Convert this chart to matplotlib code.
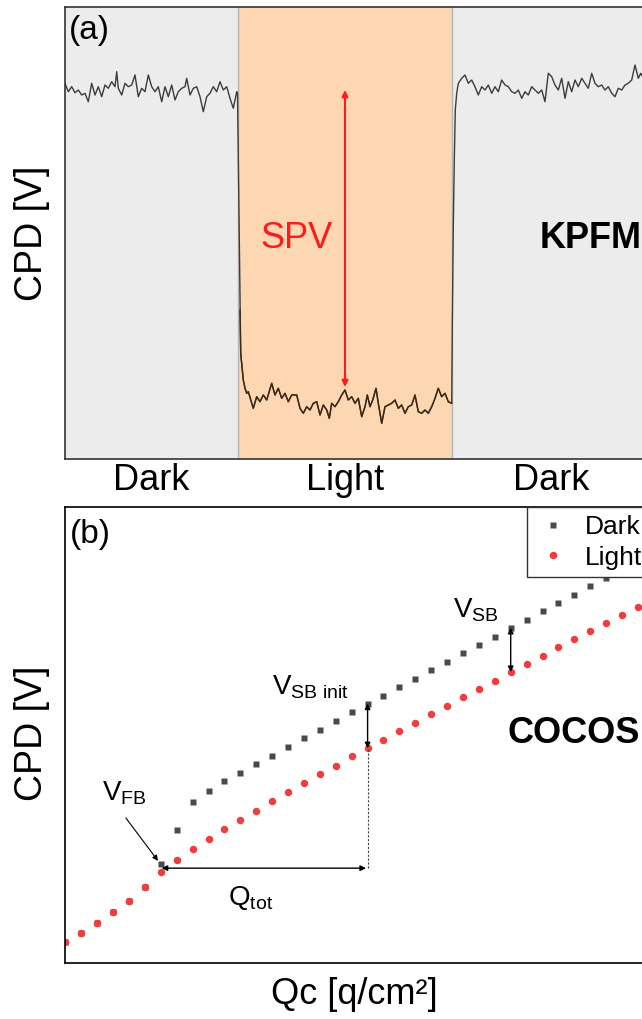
import matplotlib.pyplot as plt
import numpy as np

plt.rcParams['font.family'] = ['Liberation Sans', 'DejaVu Sans']
plt.rcParams['mathtext.fontset'] = 'custom'
plt.rcParams['mathtext.rm'] = 'Liberation Sans'
plt.rcParams['mathtext.it'] = 'Liberation Sans:italic'

# ---- (a) KPFM: CPD vs tiempo (unidades arbitrarias)
t_kpfm = [0, 3.3, 6.7, 10, 13.3, 16.7, 20, 23.3, 26.7, 30, 33.3, 36.7, 40, 43.3, 46.7, 50, 51.7, 53.3,
          56.7, 60, 63.3, 66.7, 70, 73.3, 76.7, 80, 83.3, 86.7, 90, 93.3, 96.7, 100, 103.3, 106.7, 110,
          113.3, 116.7, 120, 121.7, 125, 128.3, 131.7, 135, 138.3, 141.7, 145, 148.3, 151.7, 155, 158.3,
          161.7, 165, 168.3, 171.7,
          172.5, 173.3, 174.3, 175, 175.7, 177, 178.3, 180, 181.7, 183.3, 188.3, 191.7, 195, 198.3, 201.7,
          206.7, 210, 213.3, 216.7, 220, 223.3, 226.7, 231.7, 235, 238.3, 241.7, 245, 248.3, 251.7, 255,
          258.3, 261.7, 264.3, 266.7, 270, 273.3, 276.7, 280, 283.3, 286.7, 290, 293.3, 296.7, 300, 302.3,
          305, 307.7, 311, 313.3, 316.7, 320, 323.3, 326.7, 330, 333.3, 336.7, 340, 343.3, 346.7, 350,
          353.3, 356.7, 360, 363.3, 366.7, 370, 373.3, 376.7, 380, 383.3, 386.7,
          387.3, 388.3, 389.3, 390.3, 391.7, 393.3, 396.7, 400, 403.3, 406.7, 410, 413.3, 416.7, 420,
          423.3, 426.7, 430, 433.3, 436.7, 440, 443.3, 446.7, 450, 453.3, 456.7, 460, 463.3, 466.7, 470,
          473.3, 476.7, 480, 483.3, 486.7, 490, 493.3, 496.7, 500, 503.3, 506.7, 510, 513.3, 516.7, 520,
          523.3, 526.7, 530, 533.3, 536.7, 540, 543.3, 546.7, 550, 553.3, 556.7, 560, 563.3, 566.7, 570,
          573.3, 575.7, 580, 585]
cpd_kpfm = [375.7, 367.3, 372.3, 366.3, 369, 364, 365.7, 357.3, 375.7, 364, 372.3, 362.3, 374, 370.7,
            377.3, 372.3, 387.3, 370.7, 364, 375.7, 372.3, 374, 384, 362.3, 370.7, 367.3, 384, 372.3,
            367.3, 372.3, 357.3, 372.3, 362.3, 374, 359, 367.3, 370.7, 372.3, 380.7, 364, 370.7, 372.3,
            362.3, 347.3, 362.3, 365.7, 372.3, 367.3, 377.3, 369, 372.3, 360.7, 350.7, 367.3,
            366, 299, 215.7, 149, 105.7, 92.3, 79, 70.7, 65.7, 67.3, 50.7, 62.3, 57.3, 64, 59,
            75.7, 64, 70.7, 60.7, 65.7, 57.3, 64, 64, 50.7, 45.7, 52.3, 49, 55.7, 57.3, 44,
            54, 49, 40.7, 55.7, 52.3, 57.3, 64, 69, 59, 62.3, 55.7, 60.7, 42.3, 52.3, 64,
            52.3, 59, 70.7, 55.7, 35.7, 52.3, 54, 55.7, 59, 50.7, 54, 45.7, 52.3, 54, 64,
            47.3, 45.7, 49, 45.7, 52.3, 60.7, 70.7, 62.3, 65.7, 57.3, 55.7,
            132.3, 232.3, 299, 349, 365.7, 375.7, 380.7, 384, 375.7, 379, 372.3, 364, 372.3, 369,
            374, 365.7, 372.3, 367.3, 379, 374, 372.3, 367.3, 365.7, 369, 360.7, 367.3, 364, 372.3, 369,
            365.7, 369, 357.3, 385.7, 382.3, 374, 369, 380.7, 360.7, 377.3, 367.3, 379, 372.3, 380.7, 375.7,
            370.7, 385.7, 375.7, 372.3, 374, 369, 372.3, 365.7, 362.3, 370.7, 369, 374, 375.7, 379, 394,
            380.7, 385.7, 378, 382]
etapas = ['Dark', 'Light', 'Dark']
limites = [0, 173, 387, 585]

# ---- (b) COCOS: CPD vs carga depositada
qc = list(range(37))
cpd_dark = [4.6, 6.6, 8.8, 11.1, 13.7, 16.7, 21.7, 29.2, 35.2, 37.8, 39.9, 41.7, 43.6, 45.5, 47.4,
            49.3, 51.1, 53.0, 55.0, 56.9, 58.6, 60.5, 62.3, 64.2, 66.1, 67.9, 69.8, 71.6, 73.5, 75.3,
            77.1, 79.0, 80.7, 82.6, 84.4, 86.2, 88.1]
cpd_light = [4.6, 6.6, 8.8, 11.1, 13.7, 16.7, 20.0, 22.6, 24.9, 27.2, 29.3, 31.4, 33.4, 35.5, 37.5,
             39.4, 41.4, 43.3, 45.3, 47.1, 49.0, 50.8, 52.7, 54.6, 56.4, 58.3, 60.1, 61.9, 63.8, 65.6,
             67.4, 69.2, 71.0, 72.8, 74.6, 76.4, 78.1]

fig = plt.figure(figsize=(6.42, 10.19), dpi=100)

# Panel (a)
ax1 = fig.add_axes([65/642, 1-459/1019, 585/642, 452/1019])
fondos = ['#ececec', '#fdd6b2', '#ececec']
for k in range(3):
    ax1.axvspan(limites[k], limites[k+1], color=fondos[k], lw=0, zorder=0)
for b in limites[1:3]:
    ax1.axvline(b, color='#b4b4b4', lw=1, zorder=1)

t = np.array(t_kpfm)
c = np.array(cpd_kpfm)
ax1.plot(t, c, color='#3c3c3c', lw=1.0, zorder=2)
luz = (t >= 175) & (t <= 386.7)
ax1.plot(t[luz], c[luz], color='#3d2812', lw=1.0, zorder=3)

ax1.annotate('', xy=(280, 72), xytext=(280, 369),
             arrowprops=dict(arrowstyle='<|-|>', color='#ff1a1a', lw=1.5, mutation_scale=9,
                             shrinkA=0, shrinkB=0))
ax1.text(232, 221, 'SPV', color='#ff1a1a', fontsize=26, ha='center', va='center')
ax1.text(475, 221, 'KPFM', fontsize=26, fontweight='bold', ha='left', va='center')
ax1.text(4, 428, '(a)', fontsize=24, ha='left', va='center')

ax1.set_xlim(0, 585)
ax1.set_ylim(0, 452)
ax1.set_yticks([])
centros = [(limites[k] + limites[k+1]) / 2 for k in range(3)]
ax1.set_xticks(centros)
ax1.set_xticklabels(etapas, fontsize=26)
ax1.tick_params(axis='x', length=0, pad=3)
for s in ['left', 'bottom', 'top']:
    ax1.spines[s].set_color('#333333')
    ax1.spines[s].set_linewidth(1.2)
ax1.spines['right'].set_visible(False)

# Panel (b)
ax2 = fig.add_axes([65/642, 1-963/1019, 585/642, 456/1019])
ax2.plot(qc, cpd_dark, 's', color='#4a4a4a', ms=4.3, mec='none', label='Dark', zorder=2)
ax2.plot(qc, cpd_light, 'o', color='#ef3e3e', ms=5.4, mec='none', label='Light', zorder=2)

flecha = dict(arrowstyle='<|-|>', color='black', lw=1.0, mutation_scale=8, shrinkA=0, shrinkB=0)
ax2.annotate('', xy=(5.82, 22.4), xytext=(3.8, 31.8),
             arrowprops=dict(arrowstyle='-|>', color='black', lw=0.8, mutation_scale=8,
                             shrinkA=0, shrinkB=0))
ax2.annotate('', xy=(6.05, 20.8), xytext=(18.9, 20.8), arrowprops=flecha)
ax2.plot([19, 19], [20.8, cpd_light[19]], color='#444444', lw=0.8, ls=(0, (2, 1.5)))
ax2.annotate('', xy=(19, cpd_light[19]), xytext=(19, cpd_dark[19]), arrowprops=flecha)
ax2.annotate('', xy=(28, cpd_light[28]), xytext=(28, cpd_dark[28]), arrowprops=flecha)

ax2.text(2.3, 35.7, r'V$_{\rm FB}$', fontsize=20, ha='left', va='baseline')
ax2.text(10.2, 12.7, r'Q$_{\rm tot}$', fontsize=20, ha='left', va='baseline')
ax2.text(13.0, 58.8, r'V$_{\rm SB\ init}$', fontsize=20, ha='left', va='baseline')
ax2.text(24.4, 75.7, r'V$_{\rm SB}$', fontsize=20, ha='left', va='baseline')
ax2.text(27.8, 50.4, 'COCOS', fontsize=26, fontweight='bold', ha='left', va='center')
ax2.text(0.25, 93.9, '(b)', fontsize=24, ha='left', va='center')

ax2.legend(loc='upper right', bbox_to_anchor=(1, 1), borderaxespad=0, fontsize=19,
           fancybox=False, edgecolor='#333333', framealpha=1, handlelength=1.4,
           handletextpad=0.5, labelspacing=0.25, borderpad=0.3, numpoints=1)

ax2.set_xlim(-0.03, 36.76)
ax2.set_ylim(0, 100)
ax2.set_xticks([])
ax2.set_yticks([])
for s in ax2.spines.values():
    s.set_color('black')
    s.set_linewidth(1.2)

fig.text(32/642, 1-233/1019, 'CPD [V]', fontsize=27, rotation=90, ha='center', va='center')
fig.text(32/642, 1-733/1019, 'CPD [V]', fontsize=27, rotation=90, ha='center', va='center')
fig.text(354/642, 1-995/1019, 'Qc [q/cm²]', fontsize=26, ha='center', va='center')

fig.savefig('out.png', dpi=100)
